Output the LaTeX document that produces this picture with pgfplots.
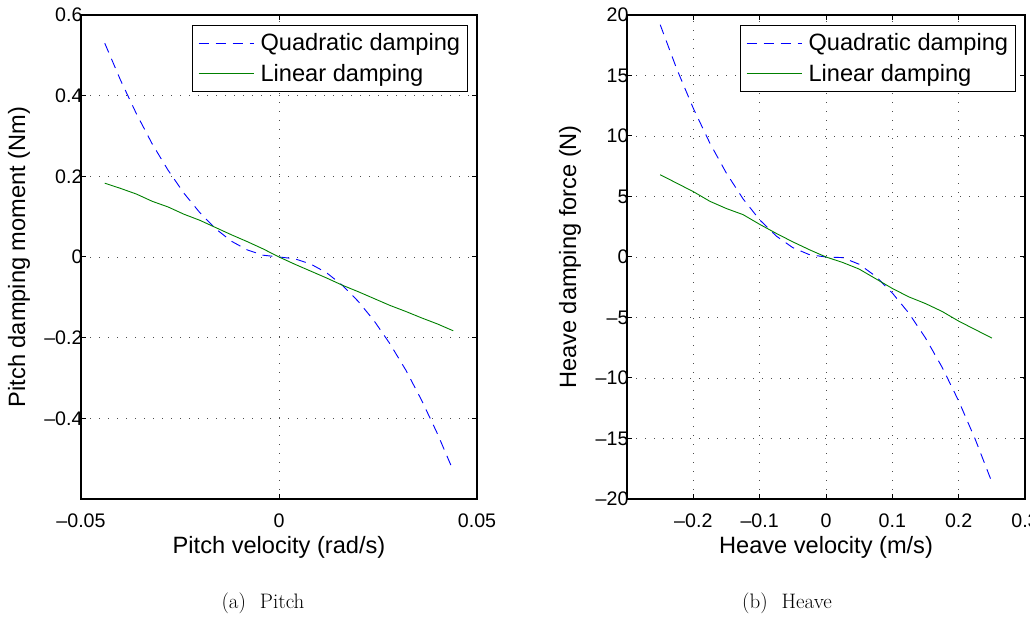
\documentclass[border=0pt]{standalone}
\usepackage{fontspec}
\usepackage{pgfplots}
\pgfplotsset{compat=1.18}
\newfontfamily\hv{Liberation Sans}
\newcommand\tickfont{\hv\fontsize{19.7}{22}\selectfont}
\newcommand\labfont{\hv\fontsize{23.7}{28}\selectfont}

\pgfplotsset{
  mstyle/.style={
    scale only axis, anchor=south west,
    scaled ticks=false,
    axis line style={line width=1.1bp},
    grid=major,
    major grid style={black!70, line width=0.8bp, dash pattern=on 1bp off 8bp},
    tick style={black, line width=1bp},
    major tick length=5bp,
    tick align=inside, tick pos=both,
    ticklabel style={font=\tickfont},
    xticklabel style={yshift=-11bp},
    yticklabel style={xshift=5bp},
    label style={font=\labfont},
    xlabel style={at={(axis description cs:0.5,-0.0992)}, anchor=center},
    legend style={at={(1,1)}, anchor=north east, xshift=-9bp, yshift=-10bp,
      font=\labfont, draw=black, line width=0.8bp, fill=white,
      inner xsep=6bp, inner ysep=7bp, row sep=9bp, column sep=5bp,
      cells={anchor=west}, nodes={inner sep=1.5bp}},
    legend image code/.code={\draw[##1] (0bp,0bp) -- (55bp,0bp);},
    legend cell align=left,
  },
  quad/.style={blue, line width=0.9bp, dash pattern=on 10bp off 7bp},
  lin/.style={green!50!black, line width=0.9bp},
}

\begin{document}
\begin{tikzpicture}[x=1bp,y=1bp]
\useasboundingbox (0,0) rectangle (1030,635);

% pitch
\begin{axis}[mstyle,
  at={(81bp,136bp)}, width=396bp, height=484bp,
  xmin=-0.05, xmax=0.05, ymin=-0.6, ymax=0.6,
  xtick={-0.05,0,0.05}, xticklabels={\textendash0.05,0,0.05},
  ytick={-0.4,-0.2,0,0.2,0.4,0.6},
  yticklabels={\textendash0.4,\textendash0.2,0,0.2,0.4,0.6},
  xlabel={Pitch velocity (rad/s)},
  ylabel={Pitch damping moment (Nm)},
  ylabel style={at={(axis description cs:-0.1566,0.5)}, anchor=center},
]
\addplot[quad] coordinates {
  (-0.044,0.530) (-0.040,0.438) (-0.036,0.355) (-0.032,0.280) (-0.028,0.215)
  (-0.024,0.158) (-0.020,0.110) (-0.016,0.070) (-0.012,0.039) (-0.008,0.0175)
  (-0.004,0.0044) (0,0) (0.004,-0.0044) (0.008,-0.0175) (0.012,-0.039)
  (0.016,-0.070) (0.020,-0.110) (0.024,-0.158) (0.028,-0.215) (0.032,-0.280)
  (0.036,-0.355) (0.040,-0.438) (0.044,-0.530)
};
\addplot[lin] coordinates {
  (-0.044,0.183) (-0.040,0.170) (-0.036,0.156) (-0.032,0.138) (-0.028,0.124)
  (-0.024,0.106) (-0.020,0.091) (-0.016,0.073) (-0.012,0.055) (-0.008,0.038)
  (-0.004,0.020) (0,0) (0.004,-0.018) (0.008,-0.035) (0.012,-0.052)
  (0.016,-0.070) (0.020,-0.086) (0.024,-0.103) (0.028,-0.120) (0.032,-0.135)
  (0.036,-0.151) (0.040,-0.166) (0.044,-0.183)
};
\legend{Quadratic damping, Linear damping}
\end{axis}

% heave
\begin{axis}[mstyle,
  at={(627bp,136bp)}, width=398bp, height=484bp,
  xmin=-0.3, xmax=0.3, ymin=-20, ymax=20,
  xtick={-0.2,-0.1,0,0.1,0.2,0.3},
  xticklabels={\textendash0.2,\textendash0.1,0,0.1,0.2,0.3},
  ytick={-20,-15,-10,-5,0,5,10,15,20},
  yticklabels={\textendash20,\textendash15,\textendash10,\textendash5,0,5,10,15,20},
  xlabel={Heave velocity (m/s)},
  ylabel={Heave damping force (N)},
  ylabel style={at={(axis description cs:-0.143,0.5)}, anchor=center},
]
\addplot[quad] coordinates {
  (-0.25,19.2) (-0.225,15.54) (-0.2,12.28) (-0.175,9.40) (-0.15,6.91)
  (-0.125,4.80) (-0.1,3.07) (-0.075,1.73) (-0.05,0.77) (-0.025,0.19)
  (0,0) (0.025,-0.05) (0.05,-0.6) (0.075,-1.6) (0.1,-2.98) (0.125,-4.65)
  (0.15,-6.70) (0.175,-9.11) (0.2,-11.9) (0.225,-15.07) (0.25,-18.6)
};
\addplot[lin] coordinates {
  (-0.25,6.8) (-0.2,5.4) (-0.175,4.6) (-0.15,4.0) (-0.125,3.5) (-0.1,2.7)
  (-0.075,1.95) (-0.05,1.25) (-0.025,0.6) (0,0) (0.025,-0.45) (0.05,-1.0)
  (0.075,-1.8) (0.1,-2.6) (0.125,-3.3) (0.15,-3.85) (0.175,-4.5)
  (0.2,-5.3) (0.225,-6.0) (0.25,-6.7)
};
\legend{Quadratic damping, Linear damping}
\end{axis}

\node[font=\fontsize{21}{25}\selectfont] at (263,32) {(a)\hspace{14bp}Pitch};
\node[font=\fontsize{21}{25}\selectfont] at (787,32) {(b)\hspace{14bp}Heave};
\end{tikzpicture}
\end{document}
